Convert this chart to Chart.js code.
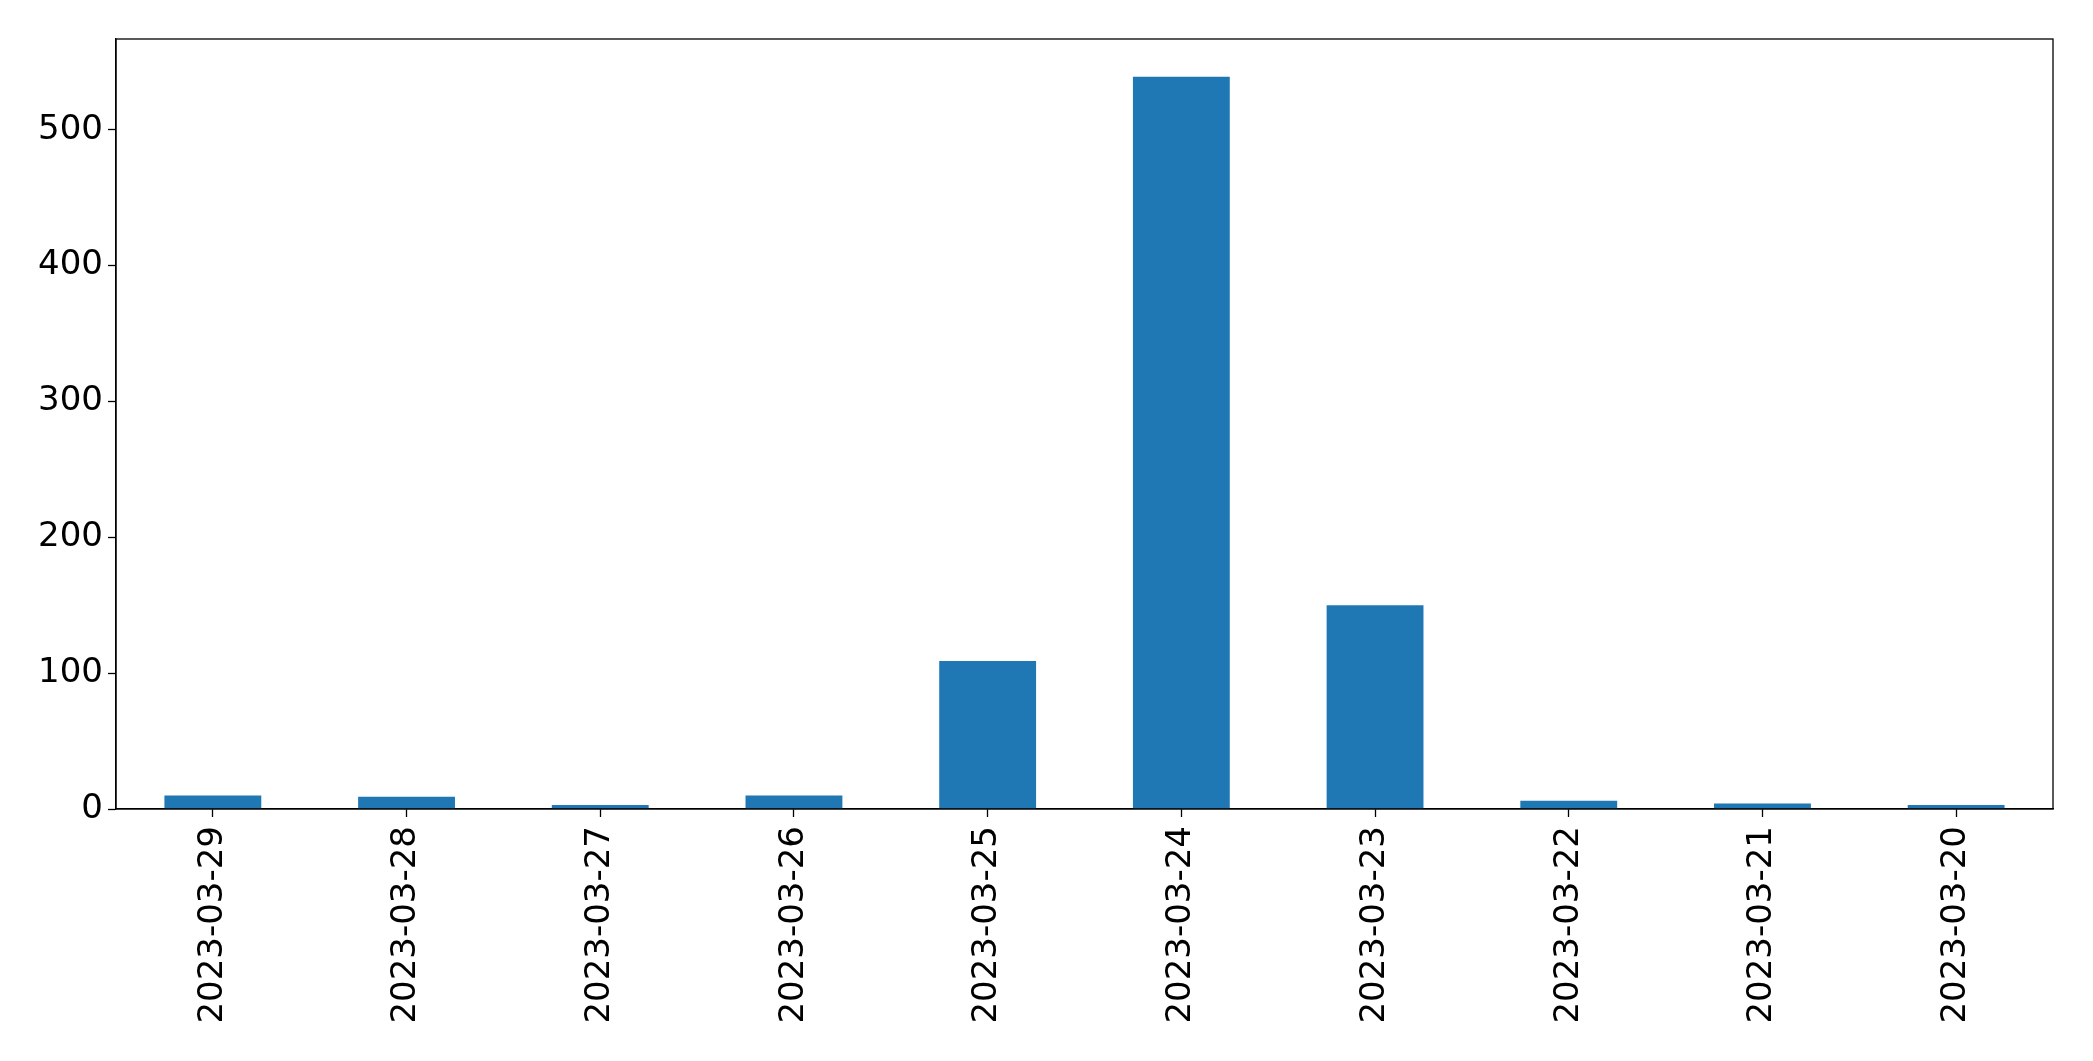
<!DOCTYPE html>
<html>
<head>
<meta charset="utf-8">
<script src="https://cdn.jsdelivr.net/npm/chart.js@4"></script>
<style>
  html, body { margin: 0; padding: 0; background: #fff; }
  #wrap { width: 2093px; height: 1061px; }
</style>
</head>
<body>
<div id="wrap"><canvas id="bar-graph" width="2093" height="1061"></canvas></div>
<script>
// data
let labels = ['2023-03-29','2023-03-28','2023-03-27','2023-03-26','2023-03-25',
              '2023-03-24','2023-03-23','2023-03-22','2023-03-21','2023-03-20'];
let counts = [10, 9, 3, 10, 109, 539, 150, 6, 4, 3];
let yTicks = [0, 100, 200, 300, 400, 500];

let colour = '#1f77b4';
let fontFace = "'DejaVu Sans', sans-serif";

// box round the plot area, like matplotlib's spines
let frame = {
    id: 'frame',
    afterDraw(chart) {
        let c = chart.ctx, a = chart.chartArea;
        c.save();
        c.strokeStyle = '#000';
        c.lineWidth = 1.3;
        c.strokeRect(a.left, a.top, a.right - a.left, a.bottom - a.top);
        c.restore();
    }
};

let ctx = document.querySelector('#bar-graph').getContext('2d');

let myChart = new Chart(ctx, {
    type: 'bar',
    data: {
        labels: labels,
        datasets: [{
            data: counts,
            backgroundColor: colour,
            categoryPercentage: 1,
            barPercentage: 0.5
        }]
    },
    options: {
        responsive: false,
        animation: false,
        layout: { padding: { left: 0, top: 39, right: 40, bottom: 0 } },
        plugins: { legend: { display: false }, tooltip: { enabled: false } },
        scales: {
            x: {
                afterFit(scale) { scale.height = 252; },
                grid: { display: true, drawOnChartArea: false, offset: false, color: '#000', tickLength: 8, tickWidth: 1.3 },
                border: { display: true, color: '#000', width: 1.3 },
                ticks: { color: '#000', font: { family: fontFace, size: 34 }, minRotation: 90, maxRotation: 90, padding: 9, autoSkip: false }
            },
            y: {
                min: 0,
                max: 566.8,
                afterFit(scale) { scale.width = 116; },
                afterBuildTicks(scale) { scale.ticks = yTicks.map(v => ({ value: v })); },
                grid: { display: true, drawOnChartArea: false, color: '#000', tickLength: 8, tickWidth: 1.3 },
                border: { display: true, color: '#000', width: 1.3 },
                ticks: { color: '#000', font: { family: fontFace, size: 34 }, padding: 5 }
            }
        }
    },
    plugins: [frame]
});
</script>
</body>
</html>
